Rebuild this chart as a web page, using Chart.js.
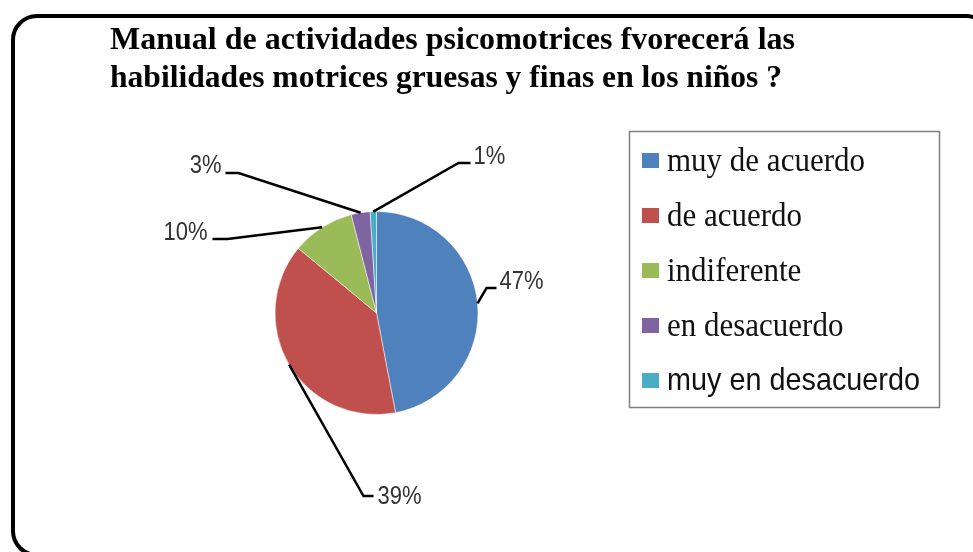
<!DOCTYPE html>
<html>
<head>
<meta charset="utf-8">
<script src="https://cdn.jsdelivr.net/npm/chart.js@4/dist/chart.umd.min.js"></script>
<style>
  html, body { margin: 0; padding: 0; background: #fff; }
  #wrap { position: relative; width: 973px; height: 552px; }
</style>
</head>
<body>
<div id="wrap"><canvas id="pieChart" width="973" height="552"></canvas></div>
<script>
(function() {
    'use strict';

    // data
    const categories = ['muy de acuerdo', 'de acuerdo', 'indiferente', 'en desacuerdo', 'muy en desacuerdo'];
    const percentages = [47, 39, 10, 3, 1];
    const sliceColors = ['#4F81BD', '#C0504D', '#9BBB59', '#8064A2', '#4BACC6'];
    const titleLines = [
        'Manual de actividades psicomotrices fvorecerá las',
        'habilidades motrices gruesas y finas en los niños ?'
    ];

    // leader line layout, offsets from pie centre (elbow, end of line, text anchor)
    const labelLayout = [
        { elbow: [110, -25], end: [120, -25], text: [123, -31], align: 'left' },
        { elbow: [-13, 183], end: [-3, 183], text: [1, 184], align: 'left' },
        { elbow: [-149, -74], end: [-164, -74], text: [-169, -80], align: 'right' },
        { elbow: [-138, -140], end: [-151, -140], text: [-155, -147], align: 'right' },
        { elbow: [82, -150], end: [94, -150], text: [97, -156], align: 'left' }
    ];

    // draws text, optionally squeezed to a width and stretched vertically
    function drawText(ctx, str, x, y, width, sy) {
        const w = ctx.measureText(str).width;
        const sx = width ? width / w : 1;
        ctx.save();
        ctx.translate(x, y);
        ctx.scale(sx, sy || 1);
        ctx.fillText(str, 0, 0);
        ctx.restore();
    }

    const frame = {
        id: 'frame',
        beforeDraw(chart) {
            const ctx = chart.ctx;
            ctx.save();
            ctx.fillStyle = '#fff';
            ctx.fillRect(0, 0, chart.width, chart.height);
            ctx.beginPath();
            ctx.roundRect(13, 16, 977, 539, 24);
            ctx.lineWidth = 4;
            ctx.strokeStyle = '#000';
            ctx.stroke();

            ctx.fillStyle = '#000';
            ctx.font = 'bold 29px "Liberation Serif", "Times New Roman", serif';
            ctx.textBaseline = 'alphabetic';
            drawText(ctx, titleLines[0], 110, 49, 685, 1.12);
            drawText(ctx, titleLines[1], 110, 87, 672, 1.12);
            ctx.restore();
        }
    };

    const leaderLabels = {
        id: 'leaderLabels',
        afterDatasetsDraw(chart) {
            const ctx = chart.ctx;
            const arcs = chart.getDatasetMeta(0).data;
            ctx.save();
            arcs.forEach((arc, i) => {
                const p = arc.getProps(['x', 'y', 'startAngle', 'endAngle', 'outerRadius'], true);
                const mid = (p.startAngle + p.endAngle) / 2;
                const lay = labelLayout[i];
                const sx = p.x + Math.cos(mid) * p.outerRadius;
                const sy = p.y + Math.sin(mid) * p.outerRadius;
                ctx.beginPath();
                ctx.moveTo(sx, sy);
                ctx.lineTo(p.x + lay.elbow[0], p.y + lay.elbow[1]);
                ctx.lineTo(p.x + lay.end[0], p.y + lay.end[1]);
                ctx.lineWidth = 2.5;
                ctx.strokeStyle = '#000';
                ctx.lineJoin = 'miter';
                ctx.stroke();

                ctx.fillStyle = '#333';
                ctx.font = '22px "Liberation Sans", Arial, sans-serif';
                ctx.textAlign = lay.align;
                ctx.textBaseline = 'middle';
                drawText(ctx, percentages[i] + '%', p.x + lay.text[0], p.y + lay.text[1], null, 1.15);
            });
            ctx.restore();
        }
    };

    const boxLegend = {
        id: 'boxLegend',
        afterDraw(chart) {
            const ctx = chart.ctx;
            const labels = chart.data.labels;
            const colors = chart.data.datasets[0].backgroundColor;
            ctx.save();
            ctx.lineWidth = 1.5;
            ctx.strokeStyle = '#7f7f7f';
            ctx.strokeRect(629.5, 131.5, 310, 276);
            labels.forEach((lab, i) => {
                const cy = 160.5 + i * 55;
                ctx.fillStyle = colors[i];
                ctx.fillRect(642, cy - 7.5, 17, 15);
                ctx.fillStyle = '#111';
                ctx.textAlign = 'left';
                ctx.textBaseline = 'alphabetic';
                if (i === labels.length - 1) {
                    ctx.font = '28px "Liberation Sans", Arial, sans-serif';
                    drawText(ctx, lab, 667, cy + 9, 253, 1.1);
                } else {
                    ctx.font = '31px "Liberation Serif", "Times New Roman", serif';
                    drawText(ctx, lab, 667, cy + 10, null, 1.1);
                }
            });
            ctx.restore();
        }
    };

    document.addEventListener('DOMContentLoaded', function() {
        new Chart(document.getElementById('pieChart'), {
            type: 'pie',
            data: {
                labels: categories,
                datasets: [{
                    data: percentages,
                    backgroundColor: sliceColors,
                    borderColor: 'rgba(255,255,255,0.5)',
                    borderWidth: 1
                }]
            },
            options: {
                responsive: false,
                animation: false,
                layout: { padding: { left: 274, right: 494, top: 211, bottom: 137 } },
                plugins: {
                    legend: { display: false },
                    title: { display: false },
                    tooltip: { enabled: false }
                }
            },
            plugins: [frame, leaderLabels, boxLegend]
        });
    });
})();
</script>
</body>
</html>
